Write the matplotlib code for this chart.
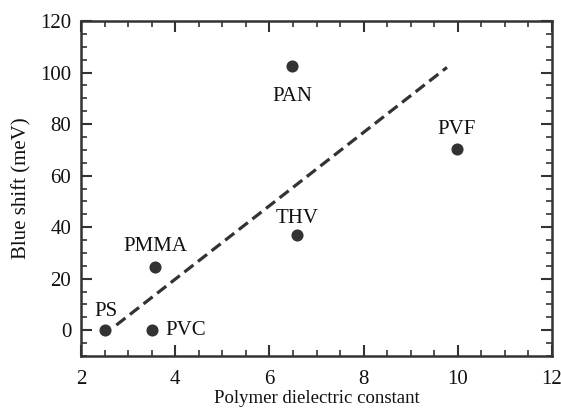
import matplotlib
matplotlib.use("Agg")
import matplotlib.pyplot as plt
from matplotlib.ticker import MultipleLocator

plt.rcParams['font.family'] = ['Liberation Serif', 'DejaVu Serif']

polymers = ["PS", "PVC", "PMMA", "THV", "PAN", "PVF"]
dielectric = [2.5, 3.5, 3.57, 6.58, 6.48, 9.98]
blue_shift = [0.0, 0.0, 24.5, 37.0, 102.5, 70.4]
fit_x = [2.75, 9.77]
fit_y = [2.0, 102.0]

label_offsets = {"PS": (1, 7, 'center', 'bottom'),
                 "PVC": (10, 0, 'left', 'center'),
                 "PMMA": (0, 8, 'center', 'bottom'),
                 "THV": (0, 5, 'center', 'bottom'),
                 "PAN": (0, -15, 'center', 'top'),
                 "PVF": (0, 7, 'center', 'bottom')}

fig = plt.figure(figsize=(5.61, 4.16), dpi=100)
ax = fig.add_axes([81/561, 1-356/416, (552-81)/561, (356-21)/416])

ax.plot(fit_x, fit_y, linestyle=(0, (3.6, 1.8)), color='#333333', linewidth=2.3)
ax.scatter(dielectric, blue_shift, s=76, color='#333333', zorder=3, linewidths=0)
for name, x, y in zip(polymers, dielectric, blue_shift):
    dx, dy, ha, va = label_offsets[name]
    ax.annotate(name, (x, y), xytext=(dx, dy), textcoords='offset points',
                ha=ha, va=va, fontsize=15, color='#111111')

ax.set_xlim(2, 12)
ax.set_ylim(-10, 120)
ax.xaxis.set_major_locator(MultipleLocator(2))
ax.xaxis.set_minor_locator(MultipleLocator(0.5))
ax.yaxis.set_major_locator(MultipleLocator(20))
ax.yaxis.set_minor_locator(MultipleLocator(5))
ax.tick_params(which='both', direction='in', top=True, right=True,
               color='#333333', labelsize=15, labelcolor='#111111')
ax.tick_params(which='major', length=8, width=1.5)
ax.tick_params(which='minor', length=4.5, width=1.2)
ax.tick_params(axis='x', which='major', pad=10)
ax.tick_params(axis='y', which='major', pad=7)
for s in ax.spines.values():
    s.set_linewidth(1.8)
    s.set_color('#333333')

ax.set_xlabel("Polymer dielectric constant", fontsize=13.5, color='#111111', labelpad=1)
ax.set_ylabel("Blue shift (meV)", fontsize=15, color='#111111', labelpad=6)

fig.savefig("out.png", dpi=100)
